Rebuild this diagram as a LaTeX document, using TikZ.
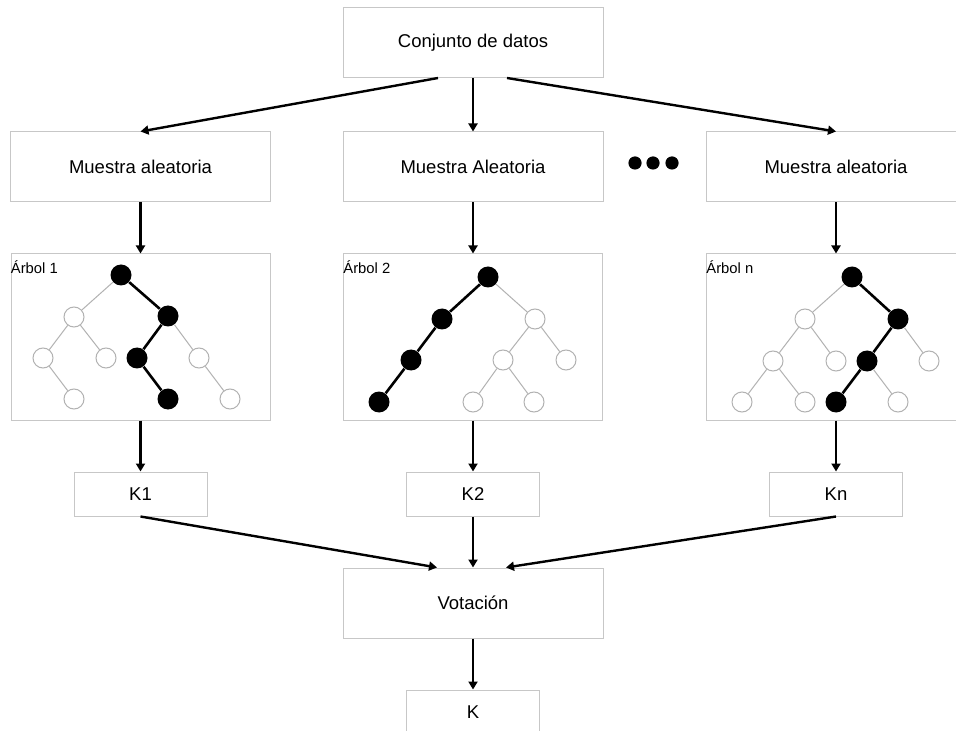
\documentclass[tikz,border=0pt]{standalone}
\usepackage{fontspec}
\setmainfont{Liberation Sans}
\usetikzlibrary{arrows.meta,calc}
\tikzstyle{box} = [rectangle, minimum width = 130pt, minimum height = 35pt, text centered, draw = black!22, line width = 0.5pt, font = \fontsize{9.25pt}{11pt}\selectfont]
\tikzstyle{treebox} = [rectangle, minimum width = 129.5pt, minimum height = 83pt, draw = black!22, line width = 0.5pt]
\tikzstyle{kbox} = [rectangle, minimum width = 66.5pt, minimum height = 22pt, text centered, draw = black!22, line width = 0.5pt, font = \fontsize{9.25pt}{11pt}\selectfont]
\tikzstyle{treelabel} = [inner sep = 0pt, font = \fontsize{7.4pt}{9pt}\selectfont]
\tikzstyle{wnode} = [circle, minimum size = 10pt, inner sep = 0pt, draw = black!30, line width = 0.5pt, fill = white]
\tikzstyle{bnode} = [circle, minimum size = 10.5pt, inner sep = 0pt, fill = black]
\tikzstyle{gedge} = [draw = black!30, line width = 0.5pt]
\tikzstyle{bedge} = [draw = black, line width = 1.3pt]
\tikzstyle{arrow} = [line width = 1.2pt, -{Triangle[length = 4pt, width = 4.5pt]}]
\begin{document}
\begin{tikzpicture}[x = 0.5pt, y = -0.5pt]
        	\clip (0,0) rectangle (956,731);
        	\fill[white] (0,0) rectangle (956,731);
        	
        	\node[box](data) at (473,42.5){Conjunto de datos};
        	\node[box](sample1) at (140.5,167){Muestra aleatoria};
        	\node[box](sample2) at (473,167){Muestra Aleatoria};
        	\node[box](samplen) at (836,167){Muestra aleatoria};
        	\node[treebox](tree1) at (140.5,337){};
        	\node[treebox](tree2) at (473,337){};
        	\node[treebox](treen) at (836,337){};
        	\node[treelabel,anchor = base west](lab1) at ($(tree1.north west)+(0,20)$){Árbol 1};
        	\node[treelabel,anchor = base west](lab2) at ($(tree2.north west)+(0,20)$){Árbol 2};
        	\node[treelabel,anchor = base west](labn) at ($(treen.north west)+(0,20)$){Árbol n};
        	\node[kbox](k1) at (140.5,494){K1};
        	\node[kbox](k2) at (473,494){K2};
        	\node[kbox](kn) at (836,494){Kn};
        	\node[box](vote) at (473,603){Votación};
        	\node[kbox](k) at (473,712){K};
        	
        	\foreach \x in {635,653,672}
        		\fill (\x,163) circle (3.3pt);
        	
        	% Arbol 1
        	\node[bnode](t1r) at (121,275){};
        	\node[wnode](t1a) at (74,317){};
        	\node[bnode](t1b) at (168,316){};
        	\node[wnode](t1c) at (43,358){};
        	\node[wnode](t1d) at (106,358){};
        	\node[bnode](t1e) at (137,358){};
        	\node[wnode](t1f) at (199,358){};
        	\node[wnode](t1g) at (74,399){};
        	\node[bnode](t1h) at (168,399){};
        	\node[wnode](t1i) at (230,399){};
        	\draw[gedge](t1r)--(t1a) (t1a)--(t1c) (t1a)--(t1d) (t1b)--(t1f) (t1c)--(t1g) (t1f)--(t1i);
        	\draw[bedge](t1r)--(t1b)--(t1e)--(t1h);
        	
        	% Arbol 2
        	\node[bnode](t2r) at (488,277){};
        	\node[bnode](t2a) at (442,319){};
        	\node[wnode](t2b) at (535,319){};
        	\node[bnode](t2c) at (411,360){};
        	\node[wnode](t2d) at (503,360){};
        	\node[wnode](t2e) at (566,360){};
        	\node[bnode](t2f) at (379,402){};
        	\node[wnode](t2g) at (473,402){};
        	\node[wnode](t2h) at (534,402){};
        	\draw[gedge](t2r)--(t2b) (t2b)--(t2d) (t2b)--(t2e) (t2d)--(t2g) (t2d)--(t2h);
        	\draw[bedge](t2r)--(t2a)--(t2c)--(t2f);
        	
        	% Arbol n
        	\node[bnode](tnr) at (852,277){};
        	\node[wnode](tna) at (805,319){};
        	\node[bnode](tnb) at (898,319){};
        	\node[wnode](tnc) at (773,361){};
        	\node[wnode](tnd) at (836,361){};
        	\node[bnode](tne) at (867,361){};
        	\node[wnode](tnf) at (929,361){};
        	\node[wnode](tng) at (742,402){};
        	\node[wnode](tnh) at (805,402){};
        	\node[bnode](tni) at (836,402){};
        	\node[wnode](tnj) at (898,402){};
        	\draw[gedge](tnr)--(tna) (tna)--(tnc) (tna)--(tnd) (tnb)--(tnf) (tnc)--(tng) (tnc)--(tnh) (tne)--(tnj);
        	\draw[bedge](tnr)--(tnb)--(tne)--(tni);
        	
        	\draw [arrow]($(data.south)+(-35,0)$)--(sample1.north);
        	\draw [arrow](data.south)--(sample2.north);
        	\draw [arrow]($(data.south)+(34,0)$)--(samplen.north);
        	\draw [arrow](sample1.south)--(tree1.north);
        	\draw [arrow](sample2.south)--(tree2.north);
        	\draw [arrow](samplen.south)--(treen.north);
        	\draw [arrow](tree1.south)--(k1.north);
        	\draw [arrow](tree2.south)--(k2.north);
        	\draw [arrow](treen.south)--(kn.north);
        	\draw [arrow](k1.south)--($(vote.north)+(-36,0)$);
        	\draw [arrow](k2.south)--(vote.north);
        	\draw [arrow](kn.south)--($(vote.north)+(33,0)$);
        	\draw [arrow](vote.south)--(k.north);
        	
\end{tikzpicture}
\end{document}
